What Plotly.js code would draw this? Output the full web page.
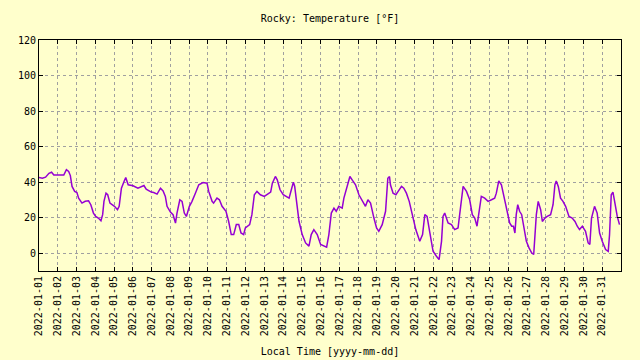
<!DOCTYPE html>
<html>
<head>
<meta charset="utf-8">
<script src="https://cdn.plot.ly/plotly-3.0.1.min.js"></script>
<style>html,body{margin:0;padding:0;background:#ffffcc;}#chart{width:640px;height:360px;}</style>
</head>
<body>
<div id="chart"></div>
<script>
// Time of each reading, in days after 2022-01-01 00:00 (local time)
var dayOffsets = [
  0.00,0.18,0.35,0.53,0.67,0.79,1.00,1.32,1.46,1.58,1.67,1.76,1.90,2.02,2.11,2.29,2.46,2.64,2.76,2.90,
  3.02,3.16,3.30,3.39,3.46,3.57,3.66,3.78,4.02,4.18,4.27,4.39,4.53,4.62,4.75,5.01,5.27,5.45,5.59,5.71,5.98,
  6.11,6.29,6.47,6.61,6.73,6.82,7.00,7.14,7.27,7.35,7.50,7.62,7.74,7.85,8.01,8.15,8.33,8.51,8.74,8.95,
  9.04,9.22,9.30,9.48,9.61,9.75,9.96,10.10,10.24,10.37,10.51,10.64,10.76,10.90,10.99,11.22,11.34,11.47,11.61,11.79,12.00,12.23,
  12.34,12.43,12.59,12.69,12.84,13.01,13.14,13.32,13.44,13.55,13.62,13.72,13.85,14.02,14.20,14.38,14.50,14.64,14.82,15.00,
  15.18,15.32,15.44,15.57,15.71,15.83,15.97,16.15,16.24,16.38,16.56,16.68,16.86,17.04,17.22,17.39,17.52,17.66,17.84,17.98,
  18.10,18.28,18.46,18.58,18.67,18.72,18.86,19.01,19.13,19.31,19.43,19.57,19.72,19.89,20.07,20.28,20.43,20.55,20.67,20.82,
  20.99,21.17,21.31,21.44,21.52,21.61,21.79,21.97,22.14,22.32,22.45,22.59,22.77,22.94,23.08,23.21,23.33,23.44,23.56,23.74,
  23.92,24.10,24.27,24.36,24.49,24.63,24.82,24.95,25.07,25.18,25.27,25.35,25.42,25.50,25.60,25.71,25.83,25.96,26.10,26.24,
  26.35,26.42,26.49,26.59,26.72,26.81,26.95,27.07,27.25,27.38,27.48,27.55,27.66,27.78,27.91,28.05,28.23,28.40,28.55,28.67,
  28.79,28.94,29.11,29.25,29.34,29.43,29.59,29.73,29.86,30.00,30.18,30.32,30.39,30.48,30.57,30.66,30.80,30.92
];
// Temperature readings [°F]
var temperatureF = [
  42.6,42.2,42.8,45.0,45.6,44.0,44.0,44.0,47.0,46.0,43.7,37.6,34.8,34.2,31.0,28.2,29.2,29.5,27.3,22.6,
  20.7,19.8,18.3,21.7,29.2,33.8,32.9,28.2,26.4,24.5,26.4,36.6,40.4,42.6,38.5,38.0,36.6,37.6,38.1,36.0,34.4,
  34.2,33.3,36.6,35.1,32.0,26.4,23.2,21.7,17.0,22.6,30.1,29.2,22.6,20.7,26.4,29.2,33.8,38.5,39.8,39.4,
  34.8,29.2,28.2,31.0,30.1,26.4,23.6,18.0,10.5,10.5,16.1,16.1,11.4,10.5,14.2,16.1,21.7,32.9,34.8,32.9,32.0,33.8,
  34.4,39.4,43.2,41.3,35.7,32.9,32.0,31.0,35.7,40.0,37.6,29.2,18.0,10.5,5.8,4.0,10.5,13.3,10.5,4.9,
  4.0,3.4,10.5,22.6,25.4,23.6,26.4,25.4,31.0,36.6,43.2,41.3,38.5,32.9,29.2,26.4,30.1,28.2,19.8,14.2,
  12.3,16.1,23.6,42.2,43.2,38.5,33.8,32.9,34.8,37.6,36.6,33.8,29.2,20.7,13.3,6.7,10.5,21.7,20.7,11.4,
  1.1,-1.7,-3.6,6.7,20.7,22.6,17.0,16.1,13.3,14.2,27.3,37.6,34.8,30.1,21.7,19.8,15.2,23.6,32.0,31.0,
  29.2,30.1,31.0,33.8,40.7,38.5,29.2,21.7,17.0,15.2,15.2,11.4,21.7,27.3,23.6,21.7,13.3,6.7,3.0,0.2,
  -0.7,8.6,21.7,29.2,24.5,17.9,19.8,20.7,21.7,27.3,38.5,40.7,37.6,31.0,29.2,26.4,20.7,19.8,17.9,15.2,
  13.3,15.2,12.3,5.8,4.9,19.8,26.4,22.6,11.4,6.7,2.1,1.1,10.5,32.9,34.4,29.2,20.7,16.1
];
var tickDates = [];
for (var d = 1; d <= 31; d++) tickDates.push('2022-01-' + (d < 10 ? '0' + d : d));
var yTicks = [0, 20, 40, 60, 80, 100, 120];

var startMs = Date.UTC(2022, 0, 1);
var times = dayOffsets.map(function (o) {
  return new Date(startMs + Math.round(o * 86400000)).toISOString().replace('T', ' ').slice(0, 19);
});

var mono = 'DejaVu Sans Mono, monospace';
var trace = {
  x: times, y: temperatureF, type: 'scatter', mode: 'lines',
  line: {color: '#9400d3', width: 1.5}, hoverinfo: 'skip'
};
var layout = {
  width: 640, height: 360,
  paper_bgcolor: '#ffffcc', plot_bgcolor: '#ffffcc',
  margin: {l: 39, r: 19, t: 40, b: 89},
  showlegend: false,
  font: {family: mono, size: 10, color: '#000'},
  title: {text: 'Rocky: Temperature [°F]', font: {family: mono, size: 10, color: '#000'},
          x: 330 / 640, xanchor: 'center', y: 1 - 18 / 360, yanchor: 'middle'},
  xaxis: {
    type: 'date', range: ['2022-01-01', '2022-02-01'],
    tickmode: 'array', tickvals: tickDates, ticktext: tickDates, tickangle: -90,
    showgrid: true, gridcolor: '#a0a0a0', griddash: '3px,3px', gridwidth: 1,
    showline: true, linecolor: '#000', linewidth: 1, mirror: 'ticks',
    ticks: 'inside', ticklen: 4, tickcolor: '#000', zeroline: false,
    tickfont: {family: mono, size: 10, color: '#000'},
    title: {text: 'Local Time [yyyy-mm-dd]', standoff: 12, font: {family: mono, size: 10, color: '#000'}}
  },
  yaxis: {
    range: [-10, 120], tickmode: 'array', tickvals: yTicks,
    showgrid: true, gridcolor: '#a0a0a0', griddash: '3px,3px', gridwidth: 1,
    showline: true, linecolor: '#000', linewidth: 1, mirror: 'ticks',
    ticks: 'inside', ticklen: 4, tickcolor: '#000', zeroline: false,
    tickfont: {family: mono, size: 10, color: '#000'}
  }
};
Plotly.newPlot('chart', [trace], layout, {staticPlot: true, displayModeBar: false});
</script>
</body>
</html>
